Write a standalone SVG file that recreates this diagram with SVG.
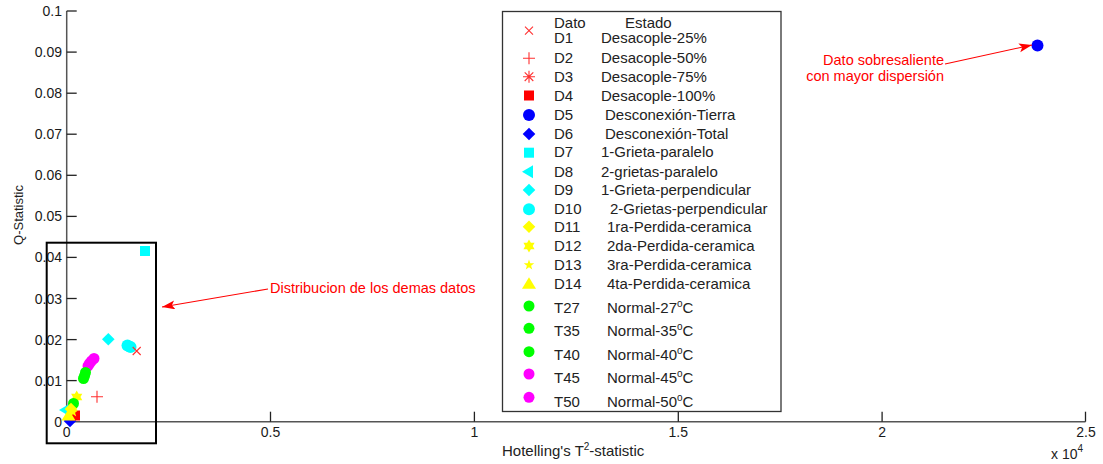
<svg xmlns="http://www.w3.org/2000/svg" xmlns:xlink="http://www.w3.org/1999/xlink" width="1103" height="464" viewBox="0 0 1103 464">
<style>
text{font-family:"Liberation Sans",Arial,sans-serif}
.ax{stroke:#555;stroke-width:1.5;fill:none}
.tk{stroke:#222;stroke-width:1.3}
.tl{font-size:14px;fill:#1a1a1a}
.tly{text-anchor:end}
.tlx{text-anchor:middle}
.lg{font-size:15px;fill:#222}
.an{font-size:14.5px;fill:#ff0000}
.red{fill:#ff0000}.rs{stroke:#ff3030;stroke-width:1.1;fill:none}
.blue{fill:#0000ff}.cyan{fill:#00ffff}.yel{fill:#ffff00}.grn{fill:#00ff00}.mag{fill:#ff00ff}
.arr{stroke:#ff0000;stroke-width:1.1;fill:none;marker-end:url(#ah)}
</style>
<defs>
<marker id="ah" markerUnits="userSpaceOnUse" markerWidth="14" markerHeight="10" refX="13" refY="4.5" orient="auto">
<path d="M0,0 L13,4.5 L0,9 L3,4.5 Z" fill="#ff0000"/>
</marker>
<path id="mx" d="M-4,-4 L4,4 M-4,4 L4,-4"/>
<path id="mplus" d="M-6,0 L6,0 M0,-6 L0,6"/>
<path id="mast" d="M-6,0 L6,0 M0,-6 L0,6 M-4.3,-4.3 L4.3,4.3 M-4.3,4.3 L4.3,-4.3"/>
<rect id="msq" x="-5" y="-5" width="10" height="10"/>
<circle id="mc" r="6"/>
<circle id="mcs" r="5.5"/>
<path id="mdi" d="M0,-6.3 L6.3,0 L0,6.3 L-6.3,0 Z"/>
<path id="mtl" d="M-7,0 L4,-6.5 L4,6.5 Z"/>
<path id="mtu" d="M0,-6 L7,5.5 L-7,5.5 Z"/>
<path id="mhex" d="M0,-6.5 L5.6,3.25 L-5.6,3.25 Z M0,6.5 L-5.6,-3.25 L5.6,-3.25 Z"/>
<path id="mpent" d="M0,-5.5 L1.29,-1.78 L5.23,-1.70 L2.09,0.68 L3.23,4.45 L0,2.2 L-3.23,4.45 L-2.09,0.68 L-5.23,-1.70 L-1.29,-1.78 Z"/>
</defs>

<g id="axes">
<line class="ax" x1="66.7" y1="11" x2="66.7" y2="421.7"/>
<line class="ax" x1="66.7" y1="421.7" x2="1085.5" y2="421.7"/>
<g class="tk">
<line x1="66.7" y1="380.6" x2="76.7" y2="380.6"/>
<line x1="66.7" y1="339.6" x2="76.7" y2="339.6"/>
<line x1="66.7" y1="298.5" x2="76.7" y2="298.5"/>
<line x1="66.7" y1="257.4" x2="76.7" y2="257.4"/>
<line x1="66.7" y1="216.4" x2="76.7" y2="216.4"/>
<line x1="66.7" y1="175.3" x2="76.7" y2="175.3"/>
<line x1="66.7" y1="134.2" x2="76.7" y2="134.2"/>
<line x1="66.7" y1="93.2" x2="76.7" y2="93.2"/>
<line x1="66.7" y1="52.1" x2="76.7" y2="52.1"/>
<line x1="66.7" y1="11" x2="76.7" y2="11"/>
<line x1="270.5" y1="421.7" x2="270.5" y2="411.7"/>
<line x1="474.4" y1="421.7" x2="474.4" y2="411.7"/>
<line x1="678.3" y1="421.7" x2="678.3" y2="411.7"/>
<line x1="882.1" y1="421.7" x2="882.1" y2="411.7"/>
<line x1="1085.5" y1="421.7" x2="1085.5" y2="411.7"/>
</g>
<g class="tl tly">
<text x="62" y="426.5">0</text>
<text x="62" y="385.6">0.01</text>
<text x="62" y="344.6">0.02</text>
<text x="62" y="303.5">0.03</text>
<text x="62" y="262.4">0.04</text>
<text x="62" y="221.4">0.05</text>
<text x="62" y="180.3">0.06</text>
<text x="62" y="139.2">0.07</text>
<text x="62" y="98.2">0.08</text>
<text x="62" y="57.1">0.09</text>
<text x="62" y="16">0.1</text>
</g>
<g class="tl tlx">
<text x="66.7" y="437">0</text>
<text x="270.5" y="437">0.5</text>
<text x="474.4" y="437">1</text>
<text x="678.3" y="437">1.5</text>
<text x="882.1" y="437">2</text>
<text x="1086" y="437">2.5</text>
</g>
<text x="502" y="456" style="font-size:15px;fill:#222">Hotelling's T<tspan dy="-6" style="font-size:10px">2</tspan><tspan dy="6">-statistic</tspan></text>
<text x="1051" y="459" style="font-size:14px;fill:#222">x 10<tspan dy="-7" style="font-size:10px">4</tspan></text>
<text transform="translate(23,215) rotate(-90)" text-anchor="middle" style="font-size:13px;fill:#222">Q-Statistic</text>
</g>

<g id="data">
<use href="#msq" x="145" y="251" class="cyan"/>
<use href="#mdi" x="108.3" y="339.3" class="cyan"/>
<use href="#mc" x="127.5" y="345.5" class="cyan"/>
<use href="#mc" x="130.5" y="347" class="cyan"/>
<use href="#mx" x="136.7" y="351" class="rs"/>
<use href="#mplus" x="97" y="396.7" class="rs"/>
<use href="#mcs" x="94" y="358.5" class="mag"/>
<use href="#mcs" x="91.5" y="361" class="mag"/>
<use href="#mcs" x="89.5" y="363.5" class="mag"/>
<use href="#mcs" x="88" y="366" class="mag"/>
<use href="#mcs" x="85.5" y="372.5" class="grn"/>
<use href="#mcs" x="84.5" y="376" class="grn"/>
<use href="#mcs" x="83.5" y="378.5" class="grn"/>
<use href="#mdi" x="70" y="421" class="blue"/>
<use href="#msq" x="75" y="415.5" class="red"/>
<use href="#mtl" x="66" y="410" class="cyan"/>
<use href="#mhex" x="76.7" y="397" class="yel"/>
<use href="#mcs" x="73.5" y="403.5" class="grn"/>
<use href="#mdi" x="71" y="409" class="yel"/>
<use href="#mpent" x="73" y="412" class="yel"/>
<use href="#mtu" x="68.5" y="415" class="yel"/>
<use href="#mc" x="1037.5" y="45.5" class="blue"/>
</g>

<g id="highlight-box">
<rect x="46.7" y="242.7" width="109.3" height="200.6" fill="none" stroke="#000" stroke-width="2"/>
</g>

<g id="legend">
<rect x="502.5" y="11.5" width="278.5" height="400" fill="#fff" stroke="#333" stroke-width="1.3"/>
<g class="lg">
<text x="554" y="28">Dato</text><text x="625" y="28">Estado</text>
<text x="554" y="43.3">D1</text><text x="601" y="43.3">Desacople-25%</text>
<text x="554" y="63.3">D2</text><text x="601" y="63.3">Desacople-50%</text>
<text x="554" y="81.7">D3</text><text x="601" y="81.7">Desacople-75%</text>
<text x="554" y="100.7">D4</text><text x="601" y="100.7">Desacople-100%</text>
<text x="554" y="120">D5</text><text x="605" y="120">Desconexión-Tierra</text>
<text x="554" y="139">D6</text><text x="605" y="139">Desconexión-Total</text>
<text x="554" y="157.3">D7</text><text x="601" y="157.3">1-Grieta-paralelo</text>
<text x="554" y="176.7">D8</text><text x="601" y="176.7">2-grietas-paralelo</text>
<text x="554" y="195">D9</text><text x="601" y="195">1-Grieta-perpendicular</text>
<text x="554" y="214">D10</text><text x="610" y="214">2-Grietas-perpendicular</text>
<text x="554" y="231.7">D11</text><text x="607" y="231.7">1ra-Perdida-ceramica</text>
<text x="554" y="250.7">D12</text><text x="607" y="250.7">2da-Perdida-ceramica</text>
<text x="554" y="270">D13</text><text x="607" y="270">3ra-Perdida-ceramica</text>
<text x="554" y="289.3">D14</text><text x="607" y="289.3">4ta-Perdida-ceramica</text>
<text x="554" y="313.3">T27</text><text x="607" y="313.3">Normal-27<tspan dy="-6" style="font-size:10px">o</tspan><tspan dy="6">C</tspan></text>
<text x="554" y="336">T35</text><text x="607" y="336">Normal-35<tspan dy="-6" style="font-size:10px">o</tspan><tspan dy="6">C</tspan></text>
<text x="554" y="360">T40</text><text x="607" y="360">Normal-40<tspan dy="-6" style="font-size:10px">o</tspan><tspan dy="6">C</tspan></text>
<text x="554" y="382.7">T45</text><text x="607" y="382.7">Normal-45<tspan dy="-6" style="font-size:10px">o</tspan><tspan dy="6">C</tspan></text>
<text x="554" y="406.7">T50</text><text x="607" y="406.7">Normal-50<tspan dy="-6" style="font-size:10px">o</tspan><tspan dy="6">C</tspan></text>
</g>
<use href="#mx" x="529" y="30.7" class="rs"/>
<use href="#mplus" x="529" y="58.3" class="rs"/>
<use href="#mast" x="529" y="76.7" class="rs"/>
<use href="#msq" x="529" y="95.5" class="red"/>
<use href="#mc" x="529" y="115" class="blue"/>
<use href="#mdi" x="529" y="134" class="blue"/>
<use href="#msq" x="529" y="152.7" class="cyan"/>
<use href="#mtl" x="529" y="171.7" class="cyan"/>
<use href="#mdi" x="529" y="190" class="cyan"/>
<use href="#mc" x="529" y="209.3" class="cyan"/>
<use href="#mdi" x="529" y="226.7" class="yel"/>
<use href="#mhex" x="529" y="246" class="yel"/>
<use href="#mpent" x="529" y="265" class="yel"/>
<use href="#mtu" x="529" y="283.3" class="yel"/>
<use href="#mcs" x="529" y="306" class="grn"/>
<use href="#mcs" x="529" y="328.3" class="grn"/>
<use href="#mcs" x="529" y="351.7" class="grn"/>
<use href="#mcs" x="529" y="374" class="mag"/>
<use href="#mcs" x="529" y="397.3" class="mag"/>
</g>

<g id="annotations">
<text class="an" x="944" y="64.5" text-anchor="end">Dato sobresaliente</text>
<text class="an" x="944" y="80.5" text-anchor="end">con mayor dispersión</text>
<text class="an" x="270" y="293">Distribucion de los demas datos</text>
</g>

<g id="connectors">
<line class="arr" x1="945" y1="64" x2="1032" y2="45"/>
<line class="arr" x1="268" y1="289" x2="162" y2="307"/>
</g>
</svg>
